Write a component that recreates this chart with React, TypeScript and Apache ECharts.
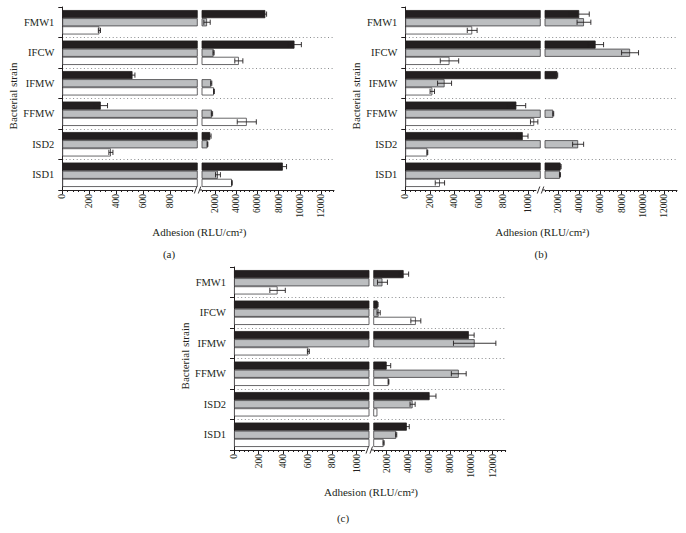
import React, { useEffect, useRef } from "react";
import * as echarts from "echarts";

// ---------- data ----------
const categories = ["FMW1", "IFCW", "IFMW", "FFMW", "ISD2", "ISD1"]; // top -> bottom

const aBlack = [6750, 9500, 520, 285, 1550, 8400];
const aBlackErr = [120, 650, 18, 50, 80, 350];
const aGray = [1250, 1870, 1650, 1715, 1300, 2280];
const aGrayErr = [300, 50, 50, 60, 30, 230];
const aWhite = [275, 4250, 1905, 5000, 360, 3600];
const aWhiteErr = [8, 380, 40, 900, 15, 30];

const bBlack = [4000, 5550, 1935, 905, 957, 2245];
const bBlackErr = [950, 750, 40, 76, 43, 50];
const bGray = [4450, 8800, 320, 1557, 3900, 2190];
const bGrayErr = [650, 800, 57, 40, 520, 50];
const bWhite = [545, 360, 220, 1050, 180, 282];
const bWhiteErr = [40, 75, 18, 30, 3, 38];

const cBlack = [3600, 1150, 9750, 2000, 6050, 3900];
const cBlackErr = [470, 40, 500, 380, 600, 230];
const cGray = [1600, 1240, 10300, 8800, 4445, 2900];
const cGrayErr = [470, 150, 2000, 700, 240, 50];
const cWhite = [355, 4750, 606, 2180, 1120, 1710];
const cWhiteErr = [63, 470, 8, 30, 0, 50];

const leftLabelsA = [0, 200, 400, 600, 800];
const leftLabelsBC = [0, 200, 400, 600, 800, 1000];
const rightLabels = [2000, 4000, 6000, 8000, 10000, 12000];

const yAxisTitle = "Bacterial strain";
const xAxisTitle = "Adhesion (RLU/cm²)";

// ---------- layout / style ----------
const FONT = "'Liberation Serif','DejaVu Serif',serif";
const INK = "#231f20";
const LEFT_W = 135;
const GAP = 4.7;
const RIGHT_W = 132;
const H = 183;
const RIGHT_MIN = 775;
const RIGHT_MAX = 13228;

type Panel = {
  x0: number;
  top: number;
  leftMax: number;
  leftLabels: number[];
  vals: number[][];
  errs: number[][];
  tag: string;
  tagX: number;
  tagDY: number;
};

const panels: Panel[] = [
  { x0: 62.3, top: 7, leftMax: 1000, leftLabels: leftLabelsA, vals: [aBlack, aGray, aWhite], errs: [aBlackErr, aGrayErr, aWhiteErr], tag: "(a)", tagX: 169, tagDY: 64 },
  { x0: 405.3, top: 7, leftMax: 1100, leftLabels: leftLabelsBC, vals: [bBlack, bGray, bWhite], errs: [bBlackErr, bGrayErr, bWhiteErr], tag: "(b)", tagX: 541, tagDY: 64 },
  { x0: 234, top: 267, leftMax: 1100, leftLabels: leftLabelsBC, vals: [cBlack, cGray, cWhite], errs: [cBlackErr, cGrayErr, cWhiteErr], tag: "(c)", tagX: 343, tagDY: 68 },
];

const barStyles = [
  { color: INK, borderColor: INK, borderWidth: 0.8 },
  { color: "#bcbec0", borderColor: "#414042", borderWidth: 0.8 },
  { color: "#ffffff", borderColor: "#414042", borderWidth: 0.8 },
];

function steps(from: number, to: number, step: number, skip: number[]) {
  const out: number[] = [];
  for (let v = from; v <= to + 1e-6; v += step) {
    if (!skip.some((s) => Math.abs(s - v) < 1e-6)) out.push(v);
  }
  return out;
}

function errRender(k: number) {
  return (params: any, api: any) => {
    const v = api.value(0);
    const e = api.value(1);
    const ci = api.value(2);
    const band = api.size([0, 1])[1];
    const barH = (band * 0.8) / 3;
    const off = (k - 1) * barH;
    const lo = api.coord([v - e, ci]);
    const hi = api.coord([v + e, ci]);
    const y = lo[1] + off;
    const cap = barH * 0.32;
    const st = { stroke: INK, lineWidth: 0.9 };
    return {
      type: "group",
      children: [
        { type: "line", shape: { x1: lo[0], y1: y, x2: hi[0], y2: y }, style: st },
        { type: "line", shape: { x1: lo[0], y1: y - cap, x2: lo[0], y2: y + cap }, style: st },
        { type: "line", shape: { x1: hi[0], y1: y - cap, x2: hi[0], y2: y + cap }, style: st },
      ],
    };
  };
}

const plain = (v: number) => String(v);

function buildOption() {
  const grid: any[] = [];
  const xAxis: any[] = [];
  const yAxis: any[] = [];
  const series: any[] = [];
  const graphic: any[] = [];
  const axisLine = { show: true, lineStyle: { color: INK, width: 1 } };
  const labelStyle = { fontFamily: FONT, color: INK };

  panels.forEach((p, pi) => {
    const gL = pi * 2;
    const gR = pi * 2 + 1;
    grid.push({ left: p.x0, top: p.top, width: LEFT_W, height: H, outerBoundsMode: "none" });
    grid.push({ left: p.x0 + LEFT_W + GAP, top: p.top, width: RIGHT_W, height: H, outerBoundsMode: "none" });

    // left main / minor
    xAxis.push({
      gridIndex: gL, type: "value", position: "bottom", min: 0, max: p.leftMax,
      axisLine, splitLine: { show: false },
      axisTick: { show: true, length: 4, customValues: p.leftLabels, lineStyle: { color: INK } },
      axisLabel: { customValues: p.leftLabels, rotate: 90, fontSize: 9.5, margin: 4, formatter: plain, ...labelStyle },
    });
    xAxis.push({
      gridIndex: gL, type: "value", position: "bottom", min: 0, max: p.leftMax,
      axisLine: { show: false }, splitLine: { show: false }, axisLabel: { show: false },
      axisTick: { show: true, length: 2, customValues: steps(40, p.leftMax - 40, 40, p.leftLabels), lineStyle: { color: INK } },
    });
    // right main / minor
    xAxis.push({
      gridIndex: gR, type: "value", position: "bottom", min: RIGHT_MIN, max: RIGHT_MAX,
      axisLine, splitLine: { show: false },
      axisTick: { show: true, length: 4, customValues: rightLabels, lineStyle: { color: INK } },
      axisLabel: { customValues: rightLabels, rotate: 90, fontSize: 9.5, margin: 4, formatter: plain, ...labelStyle },
    });
    xAxis.push({
      gridIndex: gR, type: "value", position: "bottom", min: RIGHT_MIN, max: RIGHT_MAX,
      axisLine: { show: false }, splitLine: { show: false }, axisLabel: { show: false },
      axisTick: { show: true, length: 2, customValues: steps(800, 13200, 400, rightLabels), lineStyle: { color: INK } },
    });

    const split = {
      show: true,
      interval: (i: number) => i !== 0,
      lineStyle: { color: "#8a8c8e", type: [1, 2.6], width: 1 },
    };
    yAxis.push({
      gridIndex: gL, type: "category", data: categories, inverse: true,
      axisLine, axisTick: { show: true, length: 4, lineStyle: { color: INK } },
      axisLabel: { fontSize: 10.5, margin: 8, ...labelStyle },
      splitLine: split,
    });
    yAxis.push({
      gridIndex: gR, type: "category", data: categories, inverse: true,
      axisLine: { show: false }, axisTick: { show: false }, axisLabel: { show: false },
      splitLine: split,
    });

    const xL = pi * 4;
    const xR = pi * 4 + 2;
    p.vals.forEach((vals, k) => {
      series.push({
        type: "bar", xAxisIndex: xL, yAxisIndex: gL, data: vals,
        barGap: "0%", barCategoryGap: "20%", clip: true, silent: true,
        itemStyle: barStyles[k], z: 2,
      });
    });
    p.vals.forEach((vals, k) => {
      series.push({
        type: "bar", xAxisIndex: xR, yAxisIndex: gR,
        data: vals.map((v) => (v > p.leftMax ? v : "-")),
        barGap: "0%", barCategoryGap: "20%", clip: true, silent: true,
        itemStyle: barStyles[k], z: 2,
      });
    });
    p.vals.forEach((vals, k) => {
      const errs = p.errs[k];
      const leftData: any[] = [];
      const rightData: any[] = [];
      vals.forEach((v, ci) => {
        if (errs[ci] <= 0) return;
        if (v > p.leftMax) rightData.push([v, errs[ci], ci]);
        else leftData.push([v, errs[ci], ci]);
      });
      series.push({
        type: "custom", xAxisIndex: xL, yAxisIndex: gL, data: leftData,
        encode: { x: 0, y: 2 }, renderItem: errRender(k), clip: true, silent: true, z: 5,
      });
      series.push({
        type: "custom", xAxisIndex: xR, yAxisIndex: gR, data: rightData,
        encode: { x: 0, y: 2 }, renderItem: errRender(k), clip: true, silent: true, z: 5,
      });
    });

    const bottom = p.top + H;
    const bx = p.x0 + LEFT_W;
    // axis break
    graphic.push({ type: "rect", z: 100, shape: { x: bx - 4, y: bottom - 1.5, width: 8.5, height: 3 }, style: { fill: "#fff" } });
    graphic.push({ type: "line", z: 101, shape: { x1: bx - 3, y1: bottom + 3.5, x2: bx - 0.5, y2: bottom - 3.5 }, style: { stroke: INK, lineWidth: 0.9 } });
    graphic.push({ type: "line", z: 101, shape: { x1: bx + 1, y1: bottom + 3.5, x2: bx + 3.5, y2: bottom - 3.5 }, style: { stroke: INK, lineWidth: 0.9 } });
    graphic.push({ type: "line", z: 101, shape: { x1: bx + 2.5, y1: bottom, x2: bx + GAP, y2: bottom }, style: { stroke: INK, lineWidth: 1 } });

    graphic.push({
      type: "text", z: 100, x: p.x0 - 49, y: p.top + 89, rotation: Math.PI / 2,
      style: { text: yAxisTitle, fontSize: 11, fontFamily: FONT, fill: INK, align: "center", verticalAlign: "middle", textAlign: "center", textVerticalAlign: "middle" },
    });
    graphic.push({
      type: "text", z: 100, x: p.x0 + 137, y: bottom + 42,
      style: { text: xAxisTitle, fontSize: 11, fontFamily: FONT, fill: INK, align: "center", verticalAlign: "middle", textAlign: "center", textVerticalAlign: "middle" },
    });
    graphic.push({
      type: "text", z: 100, x: p.tagX, y: bottom + p.tagDY,
      style: { text: p.tag, fontSize: 11, fontFamily: FONT, fill: INK, align: "center", verticalAlign: "middle", textAlign: "center", textVerticalAlign: "middle" },
    });
  });

  return { animation: false, backgroundColor: "#ffffff", grid, xAxis, yAxis, series, graphic };
}

export default function App() {
  const ref = useRef<HTMLDivElement>(null);
  useEffect(() => {
    if (!ref.current) return;
    const chart = echarts.init(ref.current, undefined, { renderer: "svg" });
    chart.setOption(buildOption() as any);
    return () => chart.dispose();
  }, []);
  return <div ref={ref} style={{ position: "absolute", left: 0, top: 0, width: 686, height: 533 }} />;
}
